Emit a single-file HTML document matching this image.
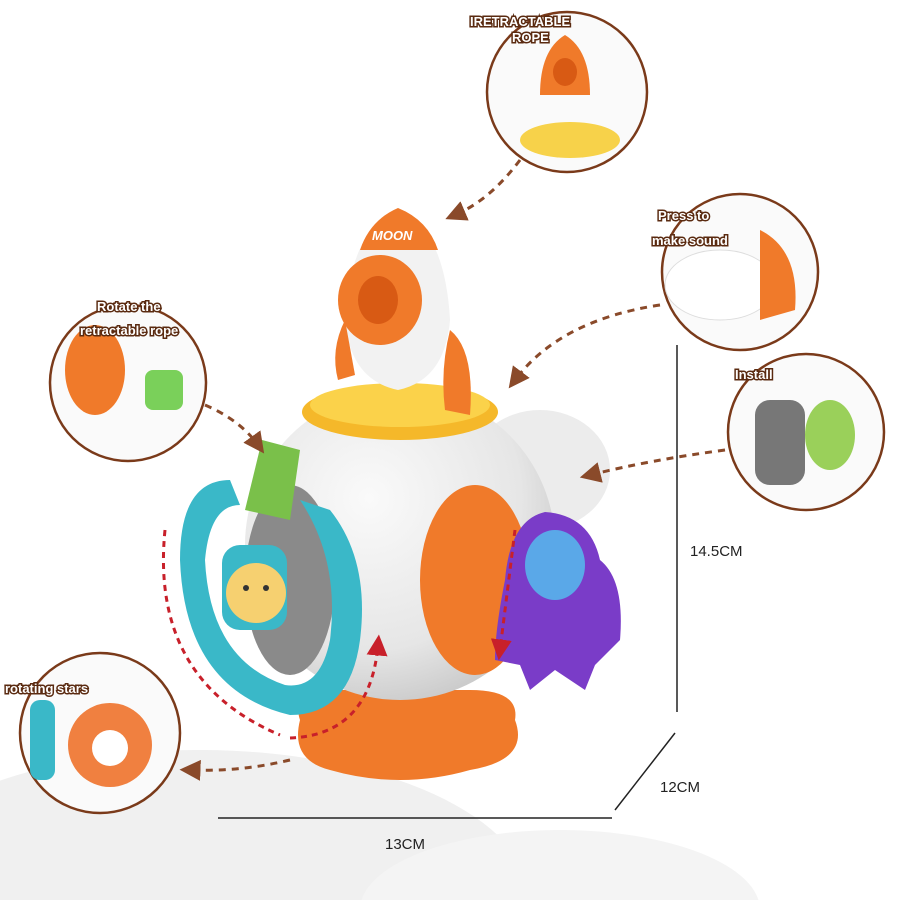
<!DOCTYPE html>
<html><head><meta charset="utf-8"><style>
html,body{margin:0;padding:0;background:#fff;width:900px;height:900px;overflow:hidden}
svg{display:block;overflow:hidden}
text{font-family:"Liberation Sans",sans-serif}
.lbl{font-weight:bold;font-size:13px;fill:#fff;stroke:#5a2a10;stroke-width:3;paint-order:stroke}
</style></head><body>
<svg width="900" height="900" viewBox="0 0 900 900">
<defs>
<marker id="ah" markerWidth="7" markerHeight="7" refX="3.5" refY="3.5" orient="auto"><path d="M0,0 L7,3.5 L0,7 z" fill="#8a4a2a"/></marker>
<marker id="rh" markerWidth="7" markerHeight="7" refX="3.5" refY="3.5" orient="auto"><path d="M0,0 L7,3.5 L0,7 z" fill="#c8202a"/></marker>
<radialGradient id="sph" cx="40%" cy="35%" r="70%"><stop offset="0" stop-color="#fafafa"/><stop offset="0.7" stop-color="#e6e6e6"/><stop offset="1" stop-color="#c8c8c8"/></radialGradient>
</defs>
<ellipse cx="200" cy="900" rx="330" ry="150" fill="#f0f0f0"/>
<ellipse cx="560" cy="910" rx="200" ry="80" fill="#f4f4f4"/>
<g stroke="#222" stroke-width="1.5">
<line x1="677" y1="345" x2="677" y2="712"/>
<line x1="675" y1="733" x2="615" y2="810"/>
<line x1="218" y1="818" x2="612" y2="818"/>
</g>
<text x="690" y="556" font-size="15" fill="#222">14.5CM</text>
<text x="660" y="792" font-size="15" fill="#222">12CM</text>
<text x="385" y="849" font-size="15" fill="#222">13CM</text>
<path d="M300,720 Q290,690 340,690 L470,690 Q520,690 515,720 Q530,760 470,770 Q400,790 330,770 Q290,760 300,720z" fill="#f07a2a"/>
<ellipse cx="540" cy="470" rx="70" ry="60" fill="#ececec"/>
<circle cx="400" cy="545" r="155" fill="url(#sph)"/>
<ellipse cx="400" cy="412" rx="98" ry="28" fill="#f5b82a"/>
<ellipse cx="400" cy="405" rx="90" ry="22" fill="#fbd24a"/>
<ellipse cx="290" cy="580" rx="45" ry="95" fill="#8a8a8a"/>
<ellipse cx="475" cy="580" rx="55" ry="95" fill="#f07a2a"/>
<path d="M262,440 L300,450 L290,520 L245,510z" fill="#7ac04a"/>
<path d="M398,208 Q350,230 345,320 Q350,380 398,390 Q445,380 450,320 Q445,230 398,208z" fill="#f2f2f2"/>
<path d="M398,208 Q370,220 360,250 L438,250 Q428,220 398,208z" fill="#f07a2a"/>
<text x="372" y="240" font-size="13" font-weight="bold" fill="#fff" font-style="italic">MOON</text>
<ellipse cx="380" cy="300" rx="42" ry="45" fill="#f07a2a"/>
<ellipse cx="378" cy="300" rx="20" ry="24" fill="#d85a14"/>
<path d="M450,330 Q475,350 470,415 L445,410 Q440,370 450,330z" fill="#f07a2a"/>
<path d="M345,320 Q330,350 338,380 L355,375z" fill="#f07a2a"/>
<path d="M230,480 Q180,480 180,560 Q185,690 290,715 Q350,715 360,640 Q370,560 330,510 L300,500 Q340,560 330,640 Q320,690 285,685 Q210,660 205,560 Q210,505 240,505z" fill="#3ab8c8"/>
<rect x="222" y="545" width="65" height="85" rx="18" fill="#3ab8c8"/>
<circle cx="256" cy="593" r="30" fill="#f6d070"/>
<circle cx="246" cy="588" r="3" fill="#333"/><circle cx="266" cy="588" r="3" fill="#333"/>
<path d="M165,530 Q150,680 280,735" fill="none" stroke="#c8202a" stroke-width="3" stroke-dasharray="6,5"/>
<path d="M290,738 Q370,735 378,645" fill="none" stroke="#c8202a" stroke-width="3" stroke-dasharray="6,5" marker-end="url(#rh)"/>
<path d="M545,512 Q510,520 505,580 Q495,630 495,660 L520,665 L530,690 L555,670 L585,690 L595,665 L620,640 Q625,580 600,560 Q590,515 545,512z" fill="#7a3cc8"/>
<ellipse cx="555" cy="565" rx="30" ry="35" fill="#5aa8e8"/>
<path d="M515,530 L500,650" stroke="#c8202a" stroke-width="3" stroke-dasharray="6,5" marker-end="url(#rh)"/>
<g stroke="#7a3a1a" stroke-width="2.5" fill="#fafafa">
<circle cx="567" cy="92" r="80"/>
<circle cx="740" cy="272" r="78"/>
<circle cx="806" cy="432" r="78"/>
<circle cx="128" cy="383" r="78"/>
<circle cx="100" cy="733" r="80"/>
</g>
<path d="M565,35 Q540,50 540,95 L590,95 Q590,50 565,35z" fill="#f07a2a"/>
<ellipse cx="565" cy="72" rx="12" ry="14" fill="#d85a14"/>
<ellipse cx="570" cy="140" rx="50" ry="18" fill="#f7d24a"/>
<ellipse cx="720" cy="285" rx="55" ry="35" fill="#fff" stroke="#ddd"/>
<path d="M760,230 Q800,250 795,310 L760,320z" fill="#f07a2a"/>
<rect x="755" y="400" width="50" height="85" rx="15" fill="#777"/>
<ellipse cx="830" cy="435" rx="25" ry="35" fill="#9ad05a"/>
<ellipse cx="95" cy="370" rx="30" ry="45" fill="#f07a2a"/>
<rect x="145" y="370" width="38" height="40" rx="8" fill="#7ad05a"/>
<circle cx="110" cy="745" r="42" fill="#f08040"/>
<circle cx="110" cy="748" r="18" fill="#fff"/>
<rect x="30" y="700" width="25" height="80" rx="10" fill="#3ab8c8"/>
<text class="lbl" x="470" y="26">IRETRACTABLE</text>
<text class="lbl" x="512" y="42">ROPE</text>
<text class="lbl" x="658" y="220">Press to</text>
<text class="lbl" x="652" y="245">make sound</text>
<text class="lbl" x="735" y="379">Install</text>
<text class="lbl" x="97" y="311">Rotate the</text>
<text class="lbl" x="80" y="335">retractable rope</text>
<text class="lbl" x="5" y="693">rotating stars</text>
<g fill="none" stroke="#8a4a2a" stroke-width="3" stroke-dasharray="7,6" marker-end="url(#ah)">
<path d="M520,160 Q490,200 455,215"/>
<path d="M660,305 Q560,320 515,380"/>
<path d="M725,450 Q650,460 590,475"/>
<path d="M205,405 Q240,420 258,445"/>
<path d="M290,760 Q240,772 190,770"/>
</g>
</svg>
</body></html>
